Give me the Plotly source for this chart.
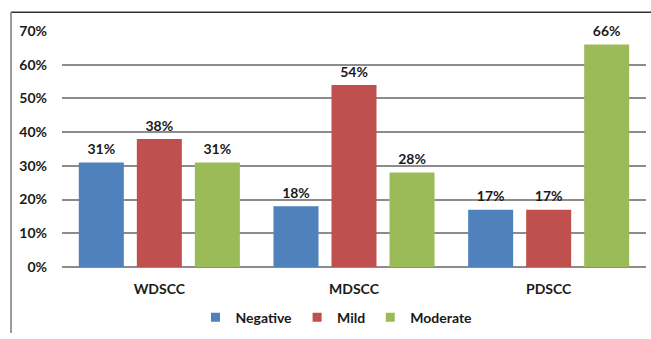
import plotly.graph_objects as go

categories = ["WDSCC", "MDSCC", "PDSCC"]
negative = [31, 18, 17]
mild = [38, 54, 17]
moderate = [31, 28, 66]
series_names = ["Negative", "Mild", "Moderate"]
colors = ["#4F81BD", "#C0504D", "#9BBB59"]
y_ticks = [0, 10, 20, 30, 40, 50, 60, 70]
y_tick_labels = [f"{v}%" for v in y_ticks]

FONT = "Lato"
TXT = "#1a1a1a"
BARGAP = 0.106
fig = go.Figure()
for name, vals, col in zip(series_names, [negative, mild, moderate], colors):
    fig.add_trace(go.Bar(
        x=categories, y=vals, name=name, marker=dict(color=col, line=dict(width=0)),
        showlegend=False, offsetgroup=name, alignmentgroup="bars",
    ))
# value labels, grouped like the bars
for name, vals in zip(series_names, [negative, mild, moderate]):
    fig.add_trace(go.Scatter(
        x=categories, y=vals, mode="markers+text", showlegend=False,
        marker=dict(size=6, opacity=0), hoverinfo="skip",
        text=[f"{v}%" for v in vals], textposition="top center",
        textfont=dict(family=FONT, size=14, color=TXT, weight="bold"),
        cliponaxis=False, offsetgroup=name, alignmentgroup="labels",
    ))
# legend entries with small square swatches (on a hidden axis pair)
for name, col in zip(series_names, colors):
    fig.add_trace(go.Scatter(
        x=[None], y=[None], mode="markers", name=name, xaxis="x2", yaxis="y2",
        marker=dict(symbol="square", size=9, color=col),
    ))

fig.update_layout(
    width=651, height=339,
    margin=dict(l=62, r=5, t=31, b=67),
    paper_bgcolor="white", plot_bgcolor="white",
    barmode="group", bargap=BARGAP, bargroupgap=0.224,
    scattermode="group", scattergap=BARGAP,
    font=dict(family=FONT, size=14, color=TXT),
    showlegend=True,
    legend=dict(orientation="h", x=0.47, xanchor="center", y=-0.215, yanchor="middle",
                font=dict(family=FONT, size=14, color=TXT, weight="bold"),
                itemwidth=30, traceorder="normal"),
    xaxis=dict(showgrid=False, showline=False, ticks="",
               tickfont=dict(family=FONT, size=14, color=TXT, weight="bold"),
               ticklabelstandoff=12),
    yaxis=dict(range=[0, 70], tickvals=y_ticks, ticktext=y_tick_labels,
               showgrid=True, gridcolor="#8c8c8c", gridwidth=1.5,
               zeroline=True, zerolinecolor="#8c8c8c", zerolinewidth=1.5,
               showline=False, ticks="",
               tickfont=dict(family=FONT, size=14, color=TXT, weight="bold"),
               ticklabelstandoff=14),
    xaxis2=dict(visible=False, overlaying="x"),
    yaxis2=dict(visible=False, overlaying="y"),
)

# outer frame lines (top and left)
fig.add_shape(type="line", xref="paper", yref="paper", x0=-0.0873, x1=1.01, y0=1.079, y1=1.079,
              line=dict(color="#333333", width=1.5))
fig.add_shape(type="line", xref="paper", yref="paper", x0=-0.0873, x1=-0.0873, y0=1.079, y1=-0.28,
              line=dict(color="#777777", width=1.5))

fig.write_html("out.html")
